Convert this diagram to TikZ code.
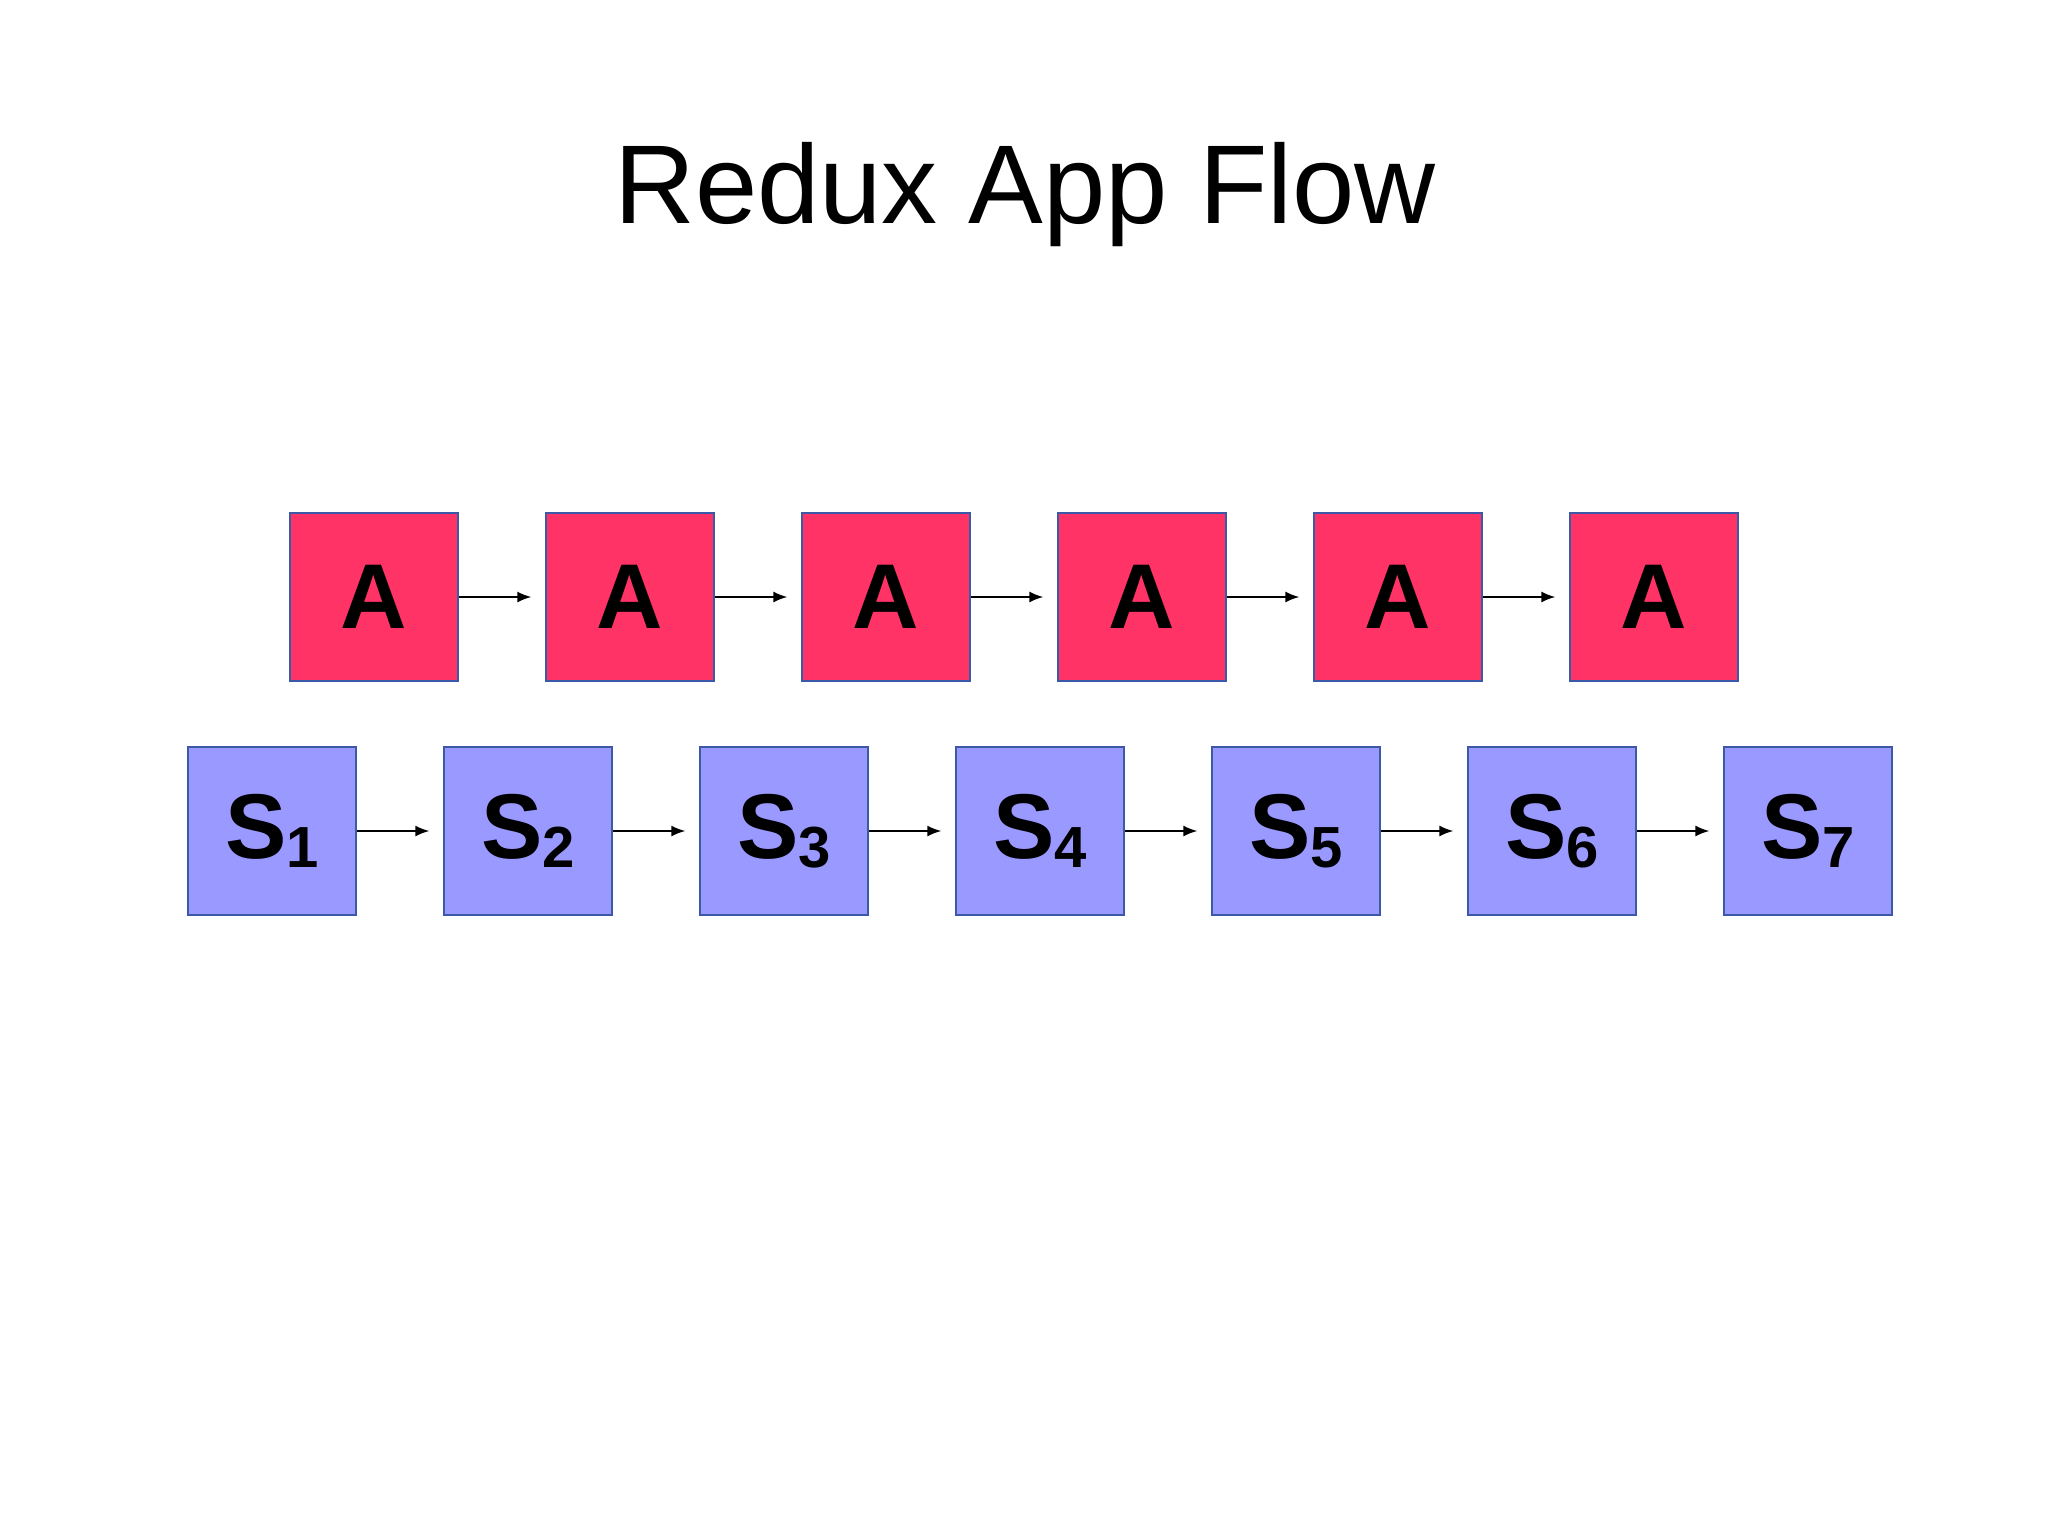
\documentclass[tikz,border=0pt]{standalone}
\usepackage{fontspec}
\setmainfont{Liberation Sans}
\usetikzlibrary{arrows.meta,positioning}
\definecolor{actred}{HTML}{FF3366}
\definecolor{statblue}{HTML}{9999FF}
\definecolor{edgeblue}{HTML}{3A5AA8}
\begin{document}
\begin{tikzpicture}[
        x=1pt, y=-1pt,
        box/.style={draw=edgeblue, line width=1.5pt, minimum size=168pt, inner sep=0pt,
            font=\fontsize{92}{92}\selectfont\bfseries},
        act/.style={box, fill=actred},
        stat/.style={box, fill=statblue},
        flow/.style={-{Latex[length=14pt,width=11pt]}, line width=1.5pt, shorten >=14pt},
        ]
    \useasboundingbox (0,0) rectangle (2048,1536);
    \node at (1025,195) {\fontsize{112}{112}\selectfont Redux App Flow};

    % actions
    \foreach \i in {1,...,6}
    {
        \node [act] (a\i) at (118+256*\i,597) {A};
    }
    \foreach \i [evaluate=\i as \j using int(\i+1)] in {1,...,5}
    {
        \draw [flow] (a\i.east) -- (a\j.west);
    }

    % states
    \foreach \i in {1,...,7}
    {
        \node [stat] (s\i) at (16+256*\i,831) {S\raisebox{-0.1em}{\fontsize{58}{58}\selectfont\i}};
    }
    \foreach \i [evaluate=\i as \j using int(\i+1)] in {1,...,6}
    {
        \draw [flow] (s\i.east) -- (s\j.west);
    }
\end{tikzpicture}
\end{document}
